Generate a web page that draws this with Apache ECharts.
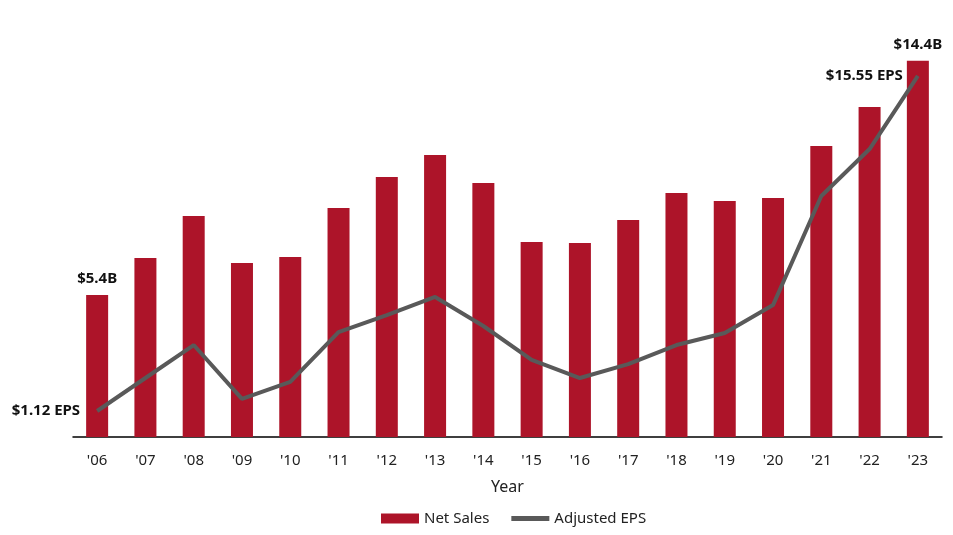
<!DOCTYPE html>
<html>
<head>
<meta charset="utf-8">
<script src="https://cdn.jsdelivr.net/npm/echarts@6/dist/echarts.min.js"></script>
<style>
  html, body { margin: 0; padding: 0; background: #fff; }
  #chart { width: 953px; height: 535px; }
</style>
</head>
<body>
<div id="chart"></div>
<script>
// data
var years = ["'06", "'07", "'08", "'09", "'10", "'11", "'12", "'13", "'14", "'15", "'16", "'17", "'18", "'19", "'20", "'21", "'22", "'23"]
var netSales = [5.44, 6.85, 8.46, 6.66, 6.89, 8.77, 9.95, 10.79, 9.72, 7.46, 7.43, 8.31, 9.34, 9.03, 9.15, 11.14, 12.63, 14.4]
var adjEps = [1.12, 2.54, 3.96, 1.64, 2.37, 4.52, 5.25, 6.03, 4.78, 3.32, 2.54, 3.14, 3.96, 4.48, 5.68, 10.38, 12.40, 15.55]
var salesLabels = { 0: '$5.4B', 17: '$14.4B' }
var epsLabels = { 0: '$1.12 EPS', 17: '$15.55 EPS' }

var font = 'Noto Sans, sans-serif'

var myChart = echarts.init(document.getElementById('chart'))

var barData = netSales.map(function (v, i) {
  var item = { value: v }
  if (salesLabels[i]) {
    item.label = { show: true, position: 'top', distance: 9, formatter: salesLabels[i] }
  }
  return item
})
var lineData = adjEps.map(function (v, i) {
  var item = { value: v }
  if (epsLabels[i]) {
    item.label = { show: true, position: 'left', distance: i === 0 ? 17 : 15, formatter: epsLabels[i] }
  }
  return item
})

myChart.setOption({
  animation: false,
  textStyle: { fontFamily: font },
  grid: { left: 73, right: 11, top: 19, bottom: 98 },
  legend: {
    bottom: 4,
    left: 376,
    itemWidth: 38,
    itemHeight: 10,
    itemGap: 22,
    textStyle: { fontSize: 15, color: '#222', fontFamily: font },
    data: [
      { name: 'Net Sales', icon: 'rect' },
      { name: 'Adjusted EPS', icon: 'path://M0 0 H38 V5 H0 Z' }
    ]
  },
  xAxis: {
    type: 'category',
    data: years,
    name: 'Year',
    nameLocation: 'middle',
    nameGap: 42,
    nameTextStyle: { fontSize: 16, color: '#222' },
    axisLine: { lineStyle: { color: '#000', width: 1.5 } },
    axisTick: { show: false },
    axisLabel: { fontSize: 15, color: '#222', margin: 16 }
  },
  yAxis: [
    { type: 'value', min: 0, max: 16, show: false },
    { type: 'value', min: 0, max: 18, show: false }
  ],
  series: [
    {
      name: 'Net Sales',
      type: 'bar',
      data: barData,
      barWidth: 22,
      itemStyle: { color: '#AD1429' },
      label: { fontSize: 15, fontWeight: 'bold', color: '#111', fontFamily: font }
    },
    {
      name: 'Adjusted EPS',
      type: 'line',
      yAxisIndex: 1,
      data: lineData,
      symbol: 'circle',
      symbolSize: 0,
      showAllSymbol: true,
      smooth: false,
      lineStyle: { color: '#595959', width: 4 },
      itemStyle: { color: '#595959' },
      label: { fontSize: 15, fontWeight: 'bold', color: '#111', fontFamily: font }
    }
  ]
})
</script>
</body>
</html>
